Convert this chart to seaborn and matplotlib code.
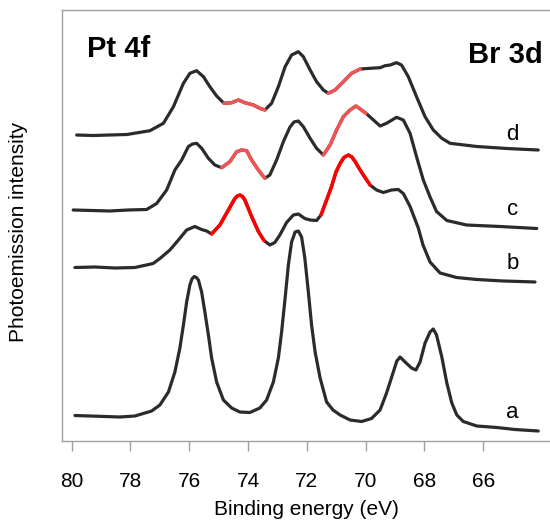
import numpy as np
import pandas as pd
import matplotlib
matplotlib.use("Agg")
import matplotlib.pyplot as plt
import seaborn as sns

# -----------------------------------------------------------------------------
# Data (binding energy in eV, intensity in arb. units,
# spectra already offset vertically as in the figure)
# -----------------------------------------------------------------------------
energy_a = [79.89, 79.38, 78.87, 78.36, 77.85, 77.28, 77.00, 76.71, 76.49, 76.32,
            76.20, 76.09, 75.98, 75.91, 75.83, 75.76, 75.69, 75.58, 75.47, 75.35,
            75.24, 75.07, 74.84, 74.56, 74.28, 73.94, 73.60, 73.37, 73.14, 72.97,
            72.86, 72.74, 72.63, 72.52, 72.40, 72.29, 72.18, 72.07, 71.95, 71.84,
            71.72, 71.55, 71.33, 71.11, 70.87, 70.53, 70.14, 69.80, 69.51, 69.29,
            69.06, 68.94, 68.83, 68.66, 68.44, 68.29, 68.15, 67.98, 67.81, 67.70,
            67.59, 67.41, 67.24, 67.07, 66.90, 66.68, 66.22, 65.54, 64.92, 64.13]
intensity_a = [0.255, 0.25, 0.245, 0.24, 0.25, 0.30, 0.36, 0.49, 0.69, 0.93,
               1.16, 1.39, 1.56, 1.62, 1.645, 1.635, 1.61, 1.49, 1.29, 1.06,
               0.83, 0.59, 0.41, 0.33, 0.29, 0.285, 0.33, 0.41, 0.59, 0.83,
               1.09, 1.43, 1.76, 1.99, 2.09, 2.10, 2.04, 1.83, 1.49, 1.16,
               0.89, 0.63, 0.39, 0.31, 0.26, 0.21, 0.195, 0.225, 0.31, 0.48,
               0.69, 0.80, 0.84, 0.79, 0.73, 0.71, 0.79, 0.98, 1.09, 1.12,
               1.06, 0.84, 0.58, 0.38, 0.26, 0.195, 0.15, 0.135, 0.115, 0.10]

energy_b = [79.89, 79.21, 78.53, 77.85, 77.23, 77.00, 76.66, 76.37, 76.09, 75.81,
            75.58, 75.41, 75.24, 74.96, 74.67, 74.45, 74.36, 74.28, 74.19, 74.11,
            73.88, 73.65, 73.46, 73.26, 73.09, 72.92, 72.69, 72.46, 72.29, 72.07,
            71.89, 71.67, 71.52, 71.33, 71.16, 71.01, 70.87, 70.74, 70.59, 70.47,
            70.36, 70.23, 70.08, 69.85, 69.63, 69.40, 69.12, 68.89, 68.72, 68.49,
            68.21, 68.05, 67.81, 67.47, 66.91, 66.22, 65.32, 64.75, 64.24]
intensity_b = [1.735, 1.74, 1.73, 1.735, 1.775, 1.825, 1.91, 2.01, 2.11, 2.145,
               2.115, 2.10, 2.07, 2.16, 2.31, 2.425, 2.45, 2.46, 2.445, 2.41,
               2.245, 2.095, 2.005, 1.96, 1.985, 2.06, 2.185, 2.26, 2.27, 2.225,
               2.21, 2.205, 2.26, 2.41, 2.545, 2.69, 2.775, 2.835, 2.86, 2.84,
               2.795, 2.73, 2.66, 2.56, 2.51, 2.485, 2.51, 2.515, 2.475, 2.345,
               2.13, 1.96, 1.79, 1.68, 1.635, 1.615, 1.60, 1.595, 1.59]

energy_c = [79.95, 79.31, 78.70, 78.09, 77.45, 77.11, 76.77, 76.49, 76.26, 76.03,
            75.89, 75.75, 75.58, 75.35, 75.13, 74.90, 74.62, 74.39, 74.22, 74.05,
            73.88, 73.65, 73.43, 73.26, 73.03, 72.80, 72.58, 72.44, 72.29, 72.12,
            71.89, 71.67, 71.44, 71.21, 70.99, 70.76, 70.53, 70.33, 70.14, 69.99,
            69.80, 69.51, 69.29, 68.95, 68.72, 68.49, 68.27, 68.04, 67.81, 67.59,
            67.24, 66.57, 65.43, 64.18]
intensity_c = [2.31, 2.305, 2.30, 2.31, 2.315, 2.375, 2.51, 2.71, 2.81, 2.945,
               2.97, 2.977, 2.927, 2.827, 2.76, 2.733, 2.793, 2.893, 2.91, 2.903,
               2.81, 2.71, 2.627, 2.66, 2.81, 2.993, 3.137, 3.19, 3.20, 3.143,
               3.027, 2.927, 2.86, 2.96, 3.11, 3.243, 3.31, 3.35, 3.31, 3.277,
               3.227, 3.15, 3.177, 3.237, 3.21, 3.077, 2.843, 2.61, 2.44, 2.295,
               2.205, 2.16, 2.145, 2.125]

energy_d = [79.83, 79.28, 78.70, 78.12, 77.34, 76.88, 76.54, 76.20, 75.98, 75.75,
            75.52, 75.30, 75.07, 74.82, 74.56, 74.33, 74.11, 73.82, 73.60, 73.43,
            73.20, 72.97, 72.74, 72.52, 72.29, 72.12, 71.89, 71.67, 71.44, 71.27,
            71.04, 70.76, 70.48, 70.19, 69.85, 69.51, 69.34, 69.17, 68.95, 68.78,
            68.55, 68.27, 67.98, 67.70, 67.41, 67.13, 66.22, 65.20, 64.13]
intensity_d = [3.06, 3.055, 3.06, 3.065, 3.103, 3.177, 3.343, 3.577, 3.677, 3.703,
               3.643, 3.543, 3.45, 3.377, 3.383, 3.41, 3.383, 3.36, 3.327, 3.31,
               3.377, 3.543, 3.743, 3.86, 3.893, 3.843, 3.71, 3.593, 3.51, 3.477,
               3.51, 3.593, 3.677, 3.72, 3.727, 3.733, 3.753, 3.76, 3.783, 3.76,
               3.643, 3.443, 3.243, 3.11, 3.027, 2.977, 2.945, 2.925, 2.91]

spectrum_names = ["a", "b", "c", "d"]

# Br 3d contributions highlighted in red: (high eV, low eV) windows per spectrum
red_windows_b = [(75.24, 73.46), (71.52, 69.85)]
red_windows_c = [(74.90, 73.43), (71.44, 69.99)]
red_windows_d = [(74.82, 73.43), (71.27, 70.19)]

label_positions = [0.23, 1.72, 2.26, 3.01]   # baseline of the a/b/c/d labels
xtick_values = [80, 78, 76, 74, 72, 70, 68, 66]

# -----------------------------------------------------------------------------
# Figure
# -----------------------------------------------------------------------------
sns.set_style("white")
plt.rcParams["font.family"] = ["Liberation Sans", "DejaVu Sans"]
plt.rcParams["text.color"] = "black"
plt.rcParams["axes.labelcolor"] = "black"
plt.rcParams["xtick.labelcolor"] = "black"

curve_color = "#2b2b2b"
red_strong = "#ff0000"
red_light = "#f05555"
frame_color = "#a0a0a0"

fig = plt.figure(figsize=(5.5, 5.21), dpi=100)
ax = fig.add_axes([62 / 550, 80 / 521, 488 / 550, 431 / 521])

spectra = pd.concat([
    pd.DataFrame({"energy": energy_a, "intensity": intensity_a, "spectrum": "a"}),
    pd.DataFrame({"energy": energy_b, "intensity": intensity_b, "spectrum": "b"}),
    pd.DataFrame({"energy": energy_c, "intensity": intensity_c, "spectrum": "c"}),
    pd.DataFrame({"energy": energy_d, "intensity": intensity_d, "spectrum": "d"}),
], ignore_index=True)

line_kw = dict(sort=False, estimator=None, legend=False,
               solid_joinstyle="round", solid_capstyle="round")

for name in spectrum_names:
    sub = spectra[spectra["spectrum"] == name]
    sns.lineplot(data=sub, x="energy", y="intensity", color=curve_color,
                 linewidth=2.3, ax=ax, **line_kw)

red_sets = [("b", red_windows_b, red_strong),
            ("c", red_windows_c, red_light),
            ("d", red_windows_d, red_light)]
for name, windows, col in red_sets:
    sub = spectra[spectra["spectrum"] == name]
    for hi, lo in windows:
        seg = sub[(sub["energy"] <= hi + 1e-6) & (sub["energy"] >= lo - 1e-6)]
        sns.lineplot(data=seg, x="energy", y="intensity", color=col,
                     linewidth=2.5, ax=ax, zorder=3, **line_kw)

for name, ypos in zip(spectrum_names, label_positions):
    ax.text(65.0, ypos, name, fontsize=16, ha="center", va="baseline", color="black")

ax.text(79.49, 3.84, "Pt 4f", fontsize=21, fontweight="bold", ha="left",
        va="baseline", color="black")
ax.text(63.97, 3.78, "Br 3d", fontsize=21, fontweight="bold", ha="right",
        va="baseline", color="black")

ax.set_xlim(80.33, 63.73)
ax.set_ylim(0, 4.31)
ax.set_xticks(xtick_values)
ax.set_xticklabels([str(v) for v in xtick_values])
ax.set_yticks([])
ax.tick_params(axis="x", direction="out", length=7, width=1, color=frame_color,
               labelcolor="black", pad=15, labelsize=15, bottom=True)

ax.set_xlabel("Binding energy (eV)", fontsize=15, labelpad=7, color="black")
ax.set_ylabel("Photoemission intensity", fontsize=15, color="black")
ax.yaxis.set_label_coords(-0.07, 0.486)

for side in ["left", "bottom", "top"]:
    ax.spines[side].set_color(frame_color)
    ax.spines[side].set_linewidth(1)
ax.spines["right"].set_visible(False)

fig.savefig("out.png", dpi=100)
